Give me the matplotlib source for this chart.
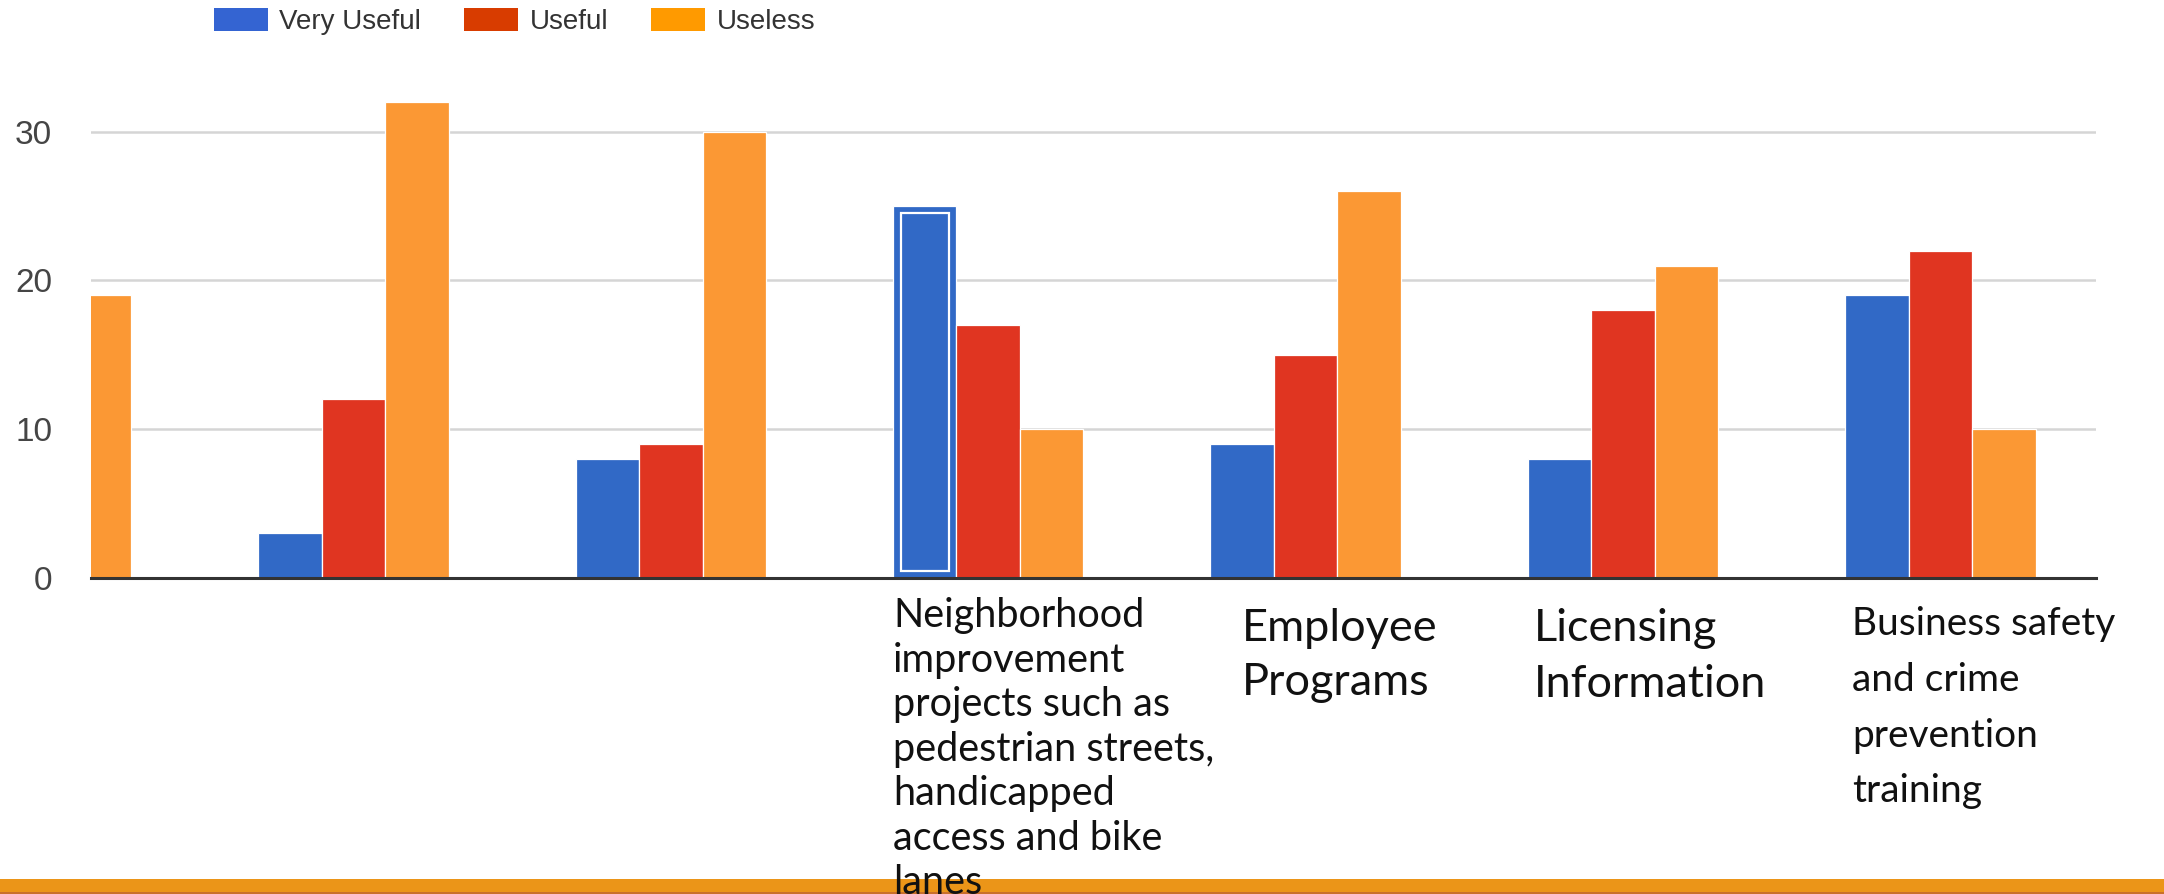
import numpy as np
import matplotlib
matplotlib.use('Agg')
import matplotlib.pyplot as plt
import matplotlib.transforms as mtransforms
from matplotlib.patches import Patch, Rectangle

# survey answers per service, first group is cut off at the left edge
series_names = ['Very Useful', 'Useful', 'Useless']
very_useful = [np.nan, 3, 8, 25, 9, 8, 19]
useful = [np.nan, 12, 9, 17, 15, 18, 22]
useless = [19, 32, 30, 10, 26, 21, 10]
highlighted = 3  # group whose blue bar is selected

category_labels = [
    '', '', '',
    'Neighborhood\nimprovement\nprojects such as\npedestrian streets,\nhandicapped\naccess and bike\nlanes',
    'Employee\nPrograms',
    'Licensing\nInformation',
    'Business safety\nand crime\nprevention\ntraining',
]
y_ticks = [0, 10, 20, 30]

bar_colors = ['#3169c6', '#e03521', '#fb9834']
legend_colors = ['#3464d2', '#d83c00', '#ff9a00']

# text boxes under the bars: (x offset from group centre, top in fig fraction, size, line spacing)
label_layout = {
    3: (-0.30, 0.332, 28.5, 1.25),
    4: (-0.20, 0.320, 32.5, 1.40),
    5: (-0.28, 0.320, 32.5, 1.45),
    6: (-0.28, 0.322, 28, 1.68),
}

W, H = 2164, 894
fig = plt.figure(figsize=(W / 100, H / 100), dpi=100)
ax = fig.add_axes([91 / W, 1 - 578 / H, (2096 - 91) / W, (578 - 87) / H])

x = np.arange(len(useless))
bw = 0.2
for i, (vals, col) in enumerate(zip([very_useful, useful, useless], bar_colors)):
    ax.bar(x + (i - 1) * bw, vals, width=bw, color=col, edgecolor='white',
           linewidth=0.9, zorder=2)

# selection outline inside the highlighted bar
ins_x, ins_y = 0.024, 0.5
ax.bar(x[highlighted] - bw, very_useful[highlighted] - 2 * ins_y,
       width=bw - 2 * ins_x, bottom=ins_y, fill=False,
       edgecolor='white', linewidth=1.6, zorder=3)

ax.set_xlim(0.174, 6.489)
ax.set_ylim(0, 33)
ax.set_yticks(y_ticks)
ax.set_yticklabels([str(t) for t in y_ticks], fontsize=24, color='#454545',
                   family='Liberation Sans')
ax.tick_params(axis='y', length=0, pad=28)
ax.set_xticks([])
for s in ax.spines.values():
    s.set_visible(False)
ax.yaxis.grid(True, color='#d5d5d5', linewidth=1.8)
ax.set_axisbelow(True)
ax.axhline(0, color='#333333', linewidth=2.2, zorder=4, clip_on=False)

trans = mtransforms.blended_transform_factory(ax.transData, fig.transFigure)
for g, (dx, top, size, ls) in label_layout.items():
    ax.text(x[g] + dx, top, category_labels[g], transform=trans, ha='left',
            va='top', fontsize=size, family='Lato', color='#111111',
            linespacing=ls, clip_on=False, zorder=5)

handles = [Patch(facecolor=c, edgecolor='none') for c in legend_colors]
fig.legend(handles, series_names, loc='upper left',
           bbox_to_anchor=(214 / W, 1 - 8 / H), ncol=3, frameon=False,
           prop={'family': 'Liberation Sans', 'size': 20},
           handlelength=1.95, handleheight=0.9, handletextpad=0.4,
           columnspacing=1.55, borderpad=0, borderaxespad=0,
           labelcolor='#333333')

# slide footer band
fig.patches.append(Rectangle((0, 0), 1, 15 / H, transform=fig.transFigure,
                             facecolor='#eb9518', edgecolor='none', zorder=-1))
fig.patches.append(Rectangle((0, 0), 1, 2 / H, transform=fig.transFigure,
                             facecolor='#c9702a', edgecolor='none', zorder=-1))

fig.savefig('out.png', dpi=100)
